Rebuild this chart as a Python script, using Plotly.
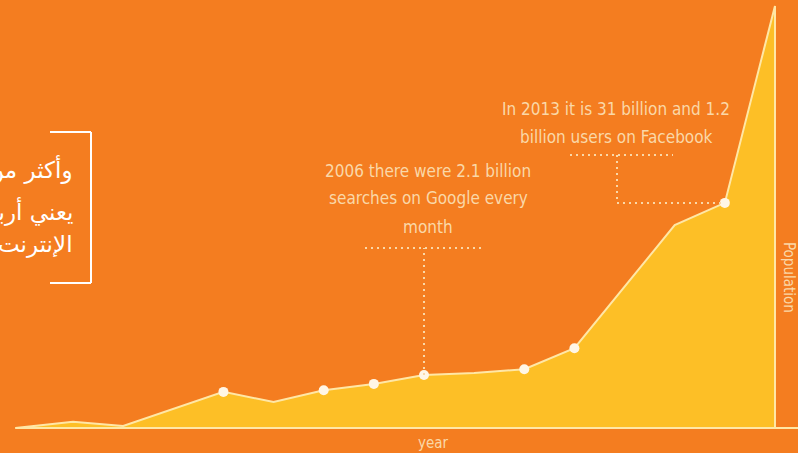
import plotly.graph_objects as go

# ---------------- data ----------------
YEARS = [1998.85, 2000, 2001, 2003, 2004, 2005, 2006, 2007, 2008, 2009, 2010, 2012, 2013, 2014]
POPULATION = [0, 1.5, 0.5, 8.6, 6.2, 9.0, 10.5, 12.6, 13.1, 14.0, 19.0, 48.3, 53.6, 100.5]
MARKER_YEARS = [2003, 2005, 2006, 2007, 2009, 2010, 2013]

GOOGLE_YEAR = 2007
FACEBOOK_YEAR = 2013

GOOGLE_LINES = ["2006 there were 2.1 billion", "searches on Google every", "month"]
FACEBOOK_LINES = ["In 2013 it is 31 billion and 1.2", "billion users on Facebook"]
ARABIC_LINES = ["وأكثر من ملياري", "يعني أربعة أضعاف", "الإنترنت"]
X_TITLE = "year"
Y_TITLE = "Population"

# ---------------- style ----------------
W, H = 798, 453
ORANGE = "#F47D20"
YELLOW = "#FDBF26"
LINE = "#FFE7A6"
CREAM = "#FAD8A8"
MARKER = "#FFF6E6"
NARROW = "DejaVu Sans Condensed, Liberation Sans Narrow, sans-serif"

X_RANGE = [1998.544, 2014.459]
Y_RANGE = [-5.952, 101.905]


def xd(px):  # pixel -> data x
    return X_RANGE[0] + px / W * (X_RANGE[1] - X_RANGE[0])


def yd(py):  # pixel -> data y
    return Y_RANGE[1] - py / H * (Y_RANGE[1] - Y_RANGE[0])


def val(year):
    return POPULATION[YEARS.index(year)]


fig = go.Figure()

# area with right edge dropping back to baseline
fig.add_trace(go.Scatter(
    x=YEARS + [YEARS[-1]], y=POPULATION + [0],
    mode="lines", fill="tozeroy", fillcolor=YELLOW,
    line=dict(color=LINE, width=2), hoverinfo="skip", showlegend=False,
))
fig.add_trace(go.Scatter(
    x=MARKER_YEARS, y=[val(y) for y in MARKER_YEARS],
    mode="markers", marker=dict(color=MARKER, size=10, line=dict(width=0)),
    showlegend=False,
))

shapes = []
# baseline
shapes.append(dict(type="line", xref="x", yref="y", x0=YEARS[0], x1=X_RANGE[1], y0=0, y1=0,
                   line=dict(color=LINE, width=2)))
dot = dict(color=CREAM, width=2, dash="2px,4px")
# Google callout
gy = yd(248)
shapes.append(dict(type="line", xref="x", yref="y", x0=GOOGLE_YEAR, x1=GOOGLE_YEAR,
                   y0=val(GOOGLE_YEAR), y1=gy, line=dot))
shapes.append(dict(type="line", xref="x", yref="y", x0=xd(365), x1=xd(482), y0=gy, y1=gy, line=dot))
# Facebook callout
fy = yd(155)
fx = xd(617)
shapes.append(dict(type="line", xref="x", yref="y", x0=xd(570), x1=xd(673), y0=fy, y1=fy, line=dot))
shapes.append(dict(type="line", xref="x", yref="y", x0=fx, x1=fx, y0=fy, y1=val(FACEBOOK_YEAR), line=dot))
shapes.append(dict(type="line", xref="x", yref="y", x0=fx, x1=FACEBOOK_YEAR,
                   y0=val(FACEBOOK_YEAR), y1=val(FACEBOOK_YEAR), line=dot))
# bracket around Arabic text
bx0, bx1, by0, by1 = 50 / W, 91 / W, 1 - 132 / H, 1 - 283 / H
br = dict(color="white", width=2)
shapes.append(dict(type="line", xref="paper", yref="paper", x0=bx0, x1=bx1, y0=by0, y1=by0, line=br))
shapes.append(dict(type="line", xref="paper", yref="paper", x0=bx1, x1=bx1, y0=by0, y1=by1, line=br))
shapes.append(dict(type="line", xref="paper", yref="paper", x0=bx0, x1=bx1, y0=by1, y1=by1, line=br))

annotations = []


def add_text(text, xpix, ypix, size, color, family, xanchor="center", angle=0):
    annotations.append(dict(
        text=text, xref="paper", yref="paper", x=xpix / W, y=1 - ypix / H,
        xanchor=xanchor, yanchor="middle", showarrow=False, textangle=angle,
        font=dict(size=size, color=color, family=family),
    ))


for t, yy in zip(GOOGLE_LINES, [171, 198, 227]):
    add_text(t, 428, yy, 17, CREAM, NARROW)
for t, yy in zip(FACEBOOK_LINES, [109, 137]):
    add_text(t, 616, yy, 17, CREAM, NARROW)
for t, yy in zip(ARABIC_LINES, [170, 212, 244]):
    add_text(t, 75, yy, 23, "white", "DejaVu Sans", xanchor="right")
add_text(X_TITLE, 433, 443, 15, CREAM, NARROW)
add_text(Y_TITLE, 789, 277, 15, CREAM, NARROW, angle=90)

fig.update_layout(
    width=W, height=H, margin=dict(l=0, r=0, t=0, b=0),
    paper_bgcolor=ORANGE, plot_bgcolor=ORANGE,
    xaxis=dict(range=X_RANGE, visible=False, fixedrange=True),
    yaxis=dict(range=Y_RANGE, visible=False, fixedrange=True),
    shapes=shapes, annotations=annotations, showlegend=False,
)

fig.write_html(
    "out.html",
    config={"displayModeBar": False},
    post_script="document.body.style.margin='0';document.body.style.padding='0';"
                "document.body.style.overflow='hidden';",
)
